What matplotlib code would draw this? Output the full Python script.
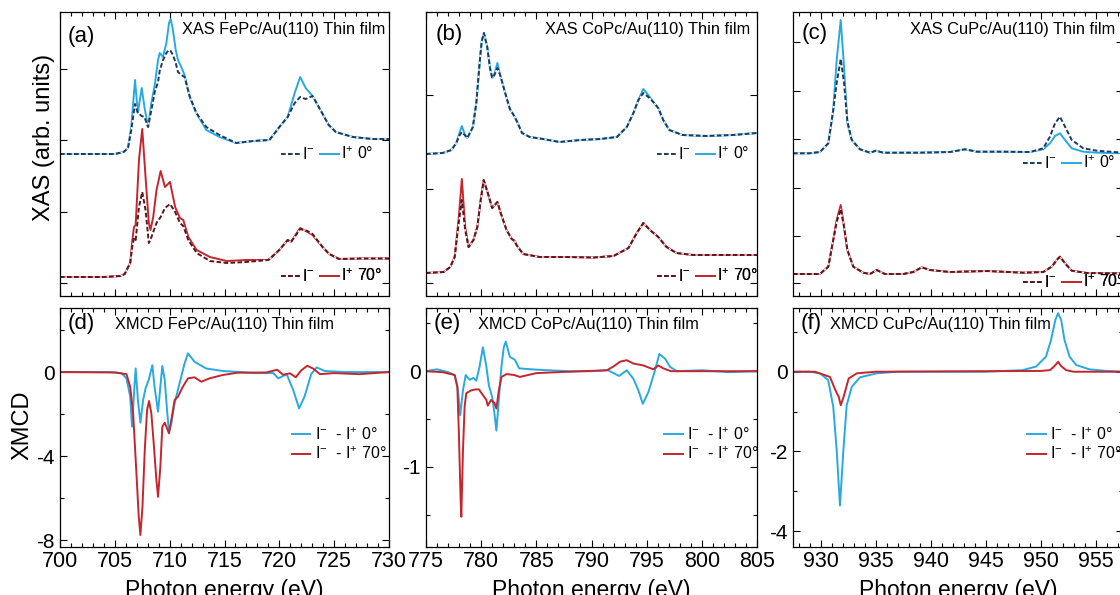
import matplotlib
matplotlib.use('Agg')
import matplotlib.pyplot as plt
from matplotlib.lines import Line2D
from matplotlib.ticker import MultipleLocator, FixedLocator, NullFormatter

plt.rcParams['font.family'] = ['Liberation Sans', 'DejaVu Sans']
plt.rcParams['mathtext.fontset'] = 'custom'
plt.rcParams['mathtext.rm'] = 'Liberation Sans'
plt.rcParams['mathtext.default'] = 'regular'
plt.rcParams['axes.unicode_minus'] = False
plt.rcParams['lines.solid_joinstyle'] = 'round'
plt.rcParams['lines.dash_joinstyle'] = 'round'

# ---------------- FePc (Fe L-edge) ----------------
FE_E0 = [700.0, 703.0, 705.0, 705.8, 706.2, 706.5, 706.84, 707.1, 707.45, 707.7,
         708.03, 708.33, 708.64, 708.94, 709.09, 709.39, 709.7, 709.94, 710.09, 710.3,
         710.55, 710.76, 711.06, 711.36, 711.82, 712.43, 713.34, 714.55, 716.06, 717.6,
         719.1, 720.0, 720.76, 721.4, 721.9, 722.4, 723.03, 723.9, 724.5, 725.15,
         726.7, 728.5, 730.0]
FE_IP0 = [1.42, 1.42, 1.42, 1.44, 1.48, 1.69, 2.16, 1.83, 2.08, 1.89,
          1.69, 1.93, 2.11, 2.36, 2.43, 2.39, 2.53, 2.73, 2.77, 2.66,
          2.46, 2.36, 2.29, 2.21, 1.99, 1.83, 1.66, 1.59, 1.53, 1.55,
          1.56, 1.69, 1.79, 2.03, 2.19, 2.08, 2.00, 1.83, 1.71, 1.64,
          1.59, 1.57, 1.57]
FE_IM0 = [1.42, 1.42, 1.42, 1.44, 1.48, 1.66, 1.92, 1.83, 1.80, 1.79,
          1.69, 1.86, 2.04, 2.14, 2.25, 2.36, 2.43, 2.46, 2.45, 2.41,
          2.33, 2.24, 2.21, 2.19, 2.00, 1.83, 1.69, 1.61, 1.53, 1.55,
          1.56, 1.69, 1.79, 1.93, 1.99, 1.97, 2.00, 1.83, 1.71, 1.64,
          1.59, 1.57, 1.57]
FE_E70 = [700.0, 704.0, 705.5, 705.9, 706.4, 706.6, 706.75, 706.9, 707.2, 707.5,
          707.8, 708.1, 708.25, 708.5, 708.8, 709.18, 709.57, 710.03, 710.5, 710.94,
          711.24, 711.7, 712.46, 713.67, 715.2, 717.0, 719.0, 720.0, 720.76, 721.06,
          721.9, 722.57, 723.03, 723.94, 724.55, 725.45, 727.5, 730.0]
FE_IP70 = [0.19, 0.19, 0.20, 0.22, 0.33, 0.56, 0.69, 0.71, 1.36, 1.67,
           1.19, 0.73, 0.66, 0.79, 1.06, 1.25, 1.09, 1.14, 0.89, 0.78,
           0.76, 0.59, 0.46, 0.39, 0.35, 0.36, 0.36, 0.46, 0.56, 0.54,
           0.68, 0.64, 0.61, 0.49, 0.42, 0.37, 0.375, 0.375]
FE_IM70 = [0.19, 0.19, 0.20, 0.22, 0.33, 0.50, 0.58, 0.56, 0.89, 1.04,
           0.86, 0.53, 0.56, 0.64, 0.73, 0.79, 0.88, 0.92, 0.84, 0.73,
           0.70, 0.56, 0.43, 0.35, 0.33, 0.34, 0.36, 0.46, 0.56, 0.54,
           0.67, 0.65, 0.62, 0.49, 0.42, 0.37, 0.375, 0.375]
FE_XE0 = [700.0, 704.5, 705.6, 706.06, 706.4, 706.57, 706.75, 706.9, 707.1, 707.33,
          707.58, 707.8, 708.1, 708.42, 708.62, 708.94, 709.15, 709.33, 709.55, 709.76,
          709.94, 710.15, 710.45, 710.9, 711.36, 711.67, 712.27, 713.33, 714.85, 716.5,
          717.6, 719.45, 719.9, 720.3, 720.67, 721.27, 721.8, 722.3, 722.9, 723.4,
          724.16, 726.0, 730.0]
FE_X0 = [0.0, 0.0, -0.05, -0.30, -1.17, -2.60, -1.0, 0.17, -1.30, -2.41,
         -1.33, -0.78, -0.35, 0.33, -0.70, -1.89, -0.70, 0.29, -0.38, -1.81,
         -2.84, -2.44, -1.49, -0.54, 0.41, 0.89, 0.49, 0.17, 0.05, 0.0,
         -0.05, -0.05, -0.30, -0.20, -0.10, -0.86, -1.73, -1.17, -0.10, 0.22,
         0.05, 0.0, 0.0]
FE_XE70 = [700.0, 705.0, 706.06, 706.4, 706.67, 706.97, 707.18, 707.33, 707.52, 707.73,
           707.94, 708.12, 708.33, 708.57, 708.79, 708.94, 709.15, 709.33, 709.55, 709.76,
           709.94, 710.15, 710.45, 710.76, 711.2, 711.67, 712.27, 712.88, 713.64, 714.85,
           716.2, 718.8, 719.8, 720.35, 720.97, 721.5, 722.0, 722.55, 723.1, 723.7,
           725.0, 727.3, 730.0]
FE_X70 = [0.0, -0.02, -0.10, -0.70, -1.97, -4.83, -6.89, -7.76, -6.41, -3.71,
          -1.81, -1.38, -1.97, -3.56, -5.14, -5.94, -4.51, -2.60, -2.41, -2.68,
          -2.92, -2.29, -1.33, -1.17, -0.70, -0.30, -0.25, -0.46, -0.30, -0.14,
          -0.03, -0.02, 0.11, -0.13, -0.06, -0.25, 0.08, 0.30, 0.16, -0.10,
          -0.05, -0.10, 0.0]

# ---------------- CoPc (Co L-edge) ----------------
CO_E0 = [775.0, 776.5, 777.3, 777.75, 778.0, 778.25, 778.5, 778.75, 779.25, 779.56,
         779.86, 780.05, 780.25, 780.55, 780.8, 781.0, 781.2, 781.47, 781.75, 782.15,
         782.6, 783.05, 783.35, 783.7, 784.4, 785.6, 787.1, 789.0, 790.8, 792.3,
         793.2, 793.8, 794.25, 794.7, 795.15, 795.6, 796.05, 796.5, 797.05, 798.25,
         800.4, 802.8, 805.0]
CO_IP0 = [1.42, 1.43, 1.46, 1.53, 1.62, 1.70, 1.62, 1.58, 1.69, 1.93,
          2.33, 2.55, 2.63, 2.49, 2.28, 2.18, 2.22, 2.33, 2.20, 2.04,
          1.87, 1.79, 1.72, 1.63, 1.59, 1.57, 1.54, 1.56, 1.57, 1.59,
          1.69, 1.83, 1.96, 2.07, 2.01, 1.94, 1.88, 1.76, 1.66, 1.61,
          1.60, 1.61, 1.63]
CO_IM0 = [1.42, 1.43, 1.46, 1.53, 1.60, 1.64, 1.61, 1.58, 1.69, 1.93,
          2.33, 2.55, 2.63, 2.49, 2.28, 2.18, 2.21, 2.28, 2.20, 2.04,
          1.87, 1.79, 1.72, 1.63, 1.59, 1.57, 1.54, 1.56, 1.57, 1.59,
          1.69, 1.83, 1.96, 2.03, 1.99, 1.94, 1.88, 1.76, 1.66, 1.61,
          1.60, 1.61, 1.63]
CO_E70 = [775.0, 776.6, 777.2, 777.6, 777.95, 778.25, 778.55, 778.86, 779.3, 779.65,
          779.96, 780.23, 780.6, 781.0, 781.47, 781.77, 782.3, 782.77, 783.05, 783.2,
          783.8, 785.3, 787.75, 790.2, 792.0, 793.35, 794.1, 794.7, 795.3, 796.05,
          796.8, 797.7, 799.2, 805.0]
CO_IP70 = [0.23, 0.24, 0.29, 0.39, 0.76, 1.17, 0.69, 0.49, 0.56, 0.69,
           0.96, 1.16, 1.03, 0.88, 0.94, 0.83, 0.66, 0.57, 0.55, 0.51,
           0.42, 0.39, 0.39, 0.385, 0.40, 0.48, 0.63, 0.73, 0.66, 0.59,
           0.49, 0.43, 0.41, 0.41]
CO_IM70 = [0.23, 0.24, 0.29, 0.39, 0.72, 0.96, 0.66, 0.49, 0.56, 0.69,
           0.96, 1.16, 1.03, 0.88, 0.94, 0.83, 0.66, 0.57, 0.55, 0.51,
           0.42, 0.39, 0.39, 0.385, 0.40, 0.48, 0.63, 0.73, 0.66, 0.59,
           0.49, 0.43, 0.41, 0.41]
CO_XE0 = [775.0, 776.0, 777.0, 777.6, 777.9, 778.1, 778.35, 778.6, 778.95, 779.3,
          779.56, 779.86, 780.16, 780.47, 780.7, 781.0, 781.2, 781.38, 781.6, 781.84,
          782.05, 782.23, 782.6, 783.05, 783.44, 784.5, 786.0, 788.0, 790.0, 791.5,
          792.5, 793.2, 793.8, 794.25, 794.65, 795.15, 795.67, 796.15, 796.67, 797.12,
          797.73, 800.0, 802.5, 805.0]
CO_X0 = [0.0, 0.02, -0.01, -0.04, -0.20, -0.46, -0.20, -0.04, -0.09, -0.07,
         -0.10, 0.05, 0.25, 0.05, -0.15, -0.27, -0.44, -0.62, -0.30, 0.05,
         0.25, 0.31, 0.15, 0.12, 0.03, 0.02, 0.01, 0.0, 0.0, 0.01,
         -0.05, 0.01, -0.08, -0.20, -0.34, -0.22, -0.025, 0.18, 0.13, 0.045,
         0.0, 0.01, -0.01, 0.0]
CO_XE70 = [775.0, 776.5, 777.6, 777.84, 777.98, 778.14, 778.2, 778.35, 778.5, 778.65,
           779.1, 779.5, 779.8, 780.16, 780.47, 780.6, 780.9, 781.2, 781.38, 781.6,
           781.84, 782.3, 783.0, 783.5, 785.0, 787.0, 789.3, 791.4, 792.0, 792.6,
           793.2, 793.8, 794.7, 795.6, 796.06, 796.5, 797.2, 800.0, 805.0]
CO_X70 = [0.0, -0.01, -0.04, -0.16, -0.65, -1.35, -1.52, -0.83, -0.37, -0.23,
          -0.20, -0.19, -0.19, -0.25, -0.30, -0.36, -0.30, -0.33, -0.39, -0.20,
          -0.06, -0.03, -0.04, -0.06, -0.02, -0.01, 0.0, 0.01, 0.05, 0.10,
          0.115, 0.08, 0.06, 0.02, 0.06, 0.03, 0.0, 0.0, 0.0]

# ---------------- CuPc (Cu L-edge) ----------------
CU_E0 = [927.5, 929.0, 929.95, 930.71, 931.16, 931.47, 931.84, 932.14, 932.44, 932.84,
         933.59, 934.5, 935.05, 935.71, 937.0, 939.0, 941.77, 943.14, 944.2, 946.62,
         949.05, 950.25, 950.86, 951.32, 951.77, 952.23, 952.84, 953.89, 955.11, 957.5]
CU_IP0 = [1.427, 1.427, 1.44, 1.527, 1.86, 2.36, 2.76, 2.29, 1.73, 1.56,
          1.467, 1.433, 1.453, 1.433, 1.433, 1.433, 1.44, 1.467, 1.443, 1.443,
          1.44, 1.467, 1.527, 1.60, 1.627, 1.56, 1.477, 1.443, 1.433, 1.427]
CU_IM0 = [1.427, 1.427, 1.44, 1.527, 1.86, 2.13, 2.37, 2.13, 1.75, 1.56,
          1.467, 1.433, 1.453, 1.433, 1.433, 1.433, 1.44, 1.467, 1.443, 1.443,
          1.44, 1.477, 1.593, 1.727, 1.793, 1.693, 1.56, 1.477, 1.453, 1.433]
CU_E70 = [927.5, 929.95, 930.71, 931.16, 931.47, 931.84, 932.14, 932.44, 932.98, 933.89,
          934.5, 935.11, 935.86, 937.53, 938.44, 939.2, 939.95, 941.77, 945.11, 948.44,
          950.25, 951.02, 951.53, 951.77, 952.23, 952.84, 954.2, 957.5]
CU_IP70 = [0.22, 0.22, 0.293, 0.56, 0.76, 0.91, 0.693, 0.46, 0.293, 0.233,
           0.22, 0.26, 0.22, 0.22, 0.24, 0.287, 0.26, 0.24, 0.25, 0.233,
           0.24, 0.293, 0.367, 0.393, 0.327, 0.253, 0.23, 0.226]
CU_IM70 = [0.22, 0.22, 0.293, 0.56, 0.74, 0.87, 0.693, 0.46, 0.293, 0.233,
           0.22, 0.26, 0.22, 0.22, 0.24, 0.287, 0.26, 0.24, 0.25, 0.233,
           0.24, 0.293, 0.367, 0.393, 0.327, 0.253, 0.23, 0.226]
CU_XE0 = [927.5, 929.0, 929.95, 930.7, 931.16, 931.47, 931.77, 932.08, 932.38, 932.84,
          933.59, 935.1, 937.0, 945.0, 948.37, 949.6, 950.5, 950.96, 951.35, 951.6,
          951.88, 952.18, 952.64, 953.24, 954.45, 956.0, 957.5]
CU_X0 = [0.0, 0.0, -0.04, -0.21, -0.88, -1.97, -3.36, -1.97, -0.84, -0.38,
         -0.14, -0.04, 0.0, 0.0, 0.04, 0.13, 0.38, 0.80, 1.30, 1.47,
         1.30, 0.80, 0.38, 0.17, 0.06, 0.02, 0.0]
CU_XE70 = [927.5, 929.5, 930.86, 931.35, 931.66, 931.84, 932.1, 932.35, 932.56, 933.3,
           935.0, 950.0, 950.86, 951.27, 951.6, 951.88, 952.33, 953.0, 957.5]
CU_X70 = [0.0, 0.0, -0.13, -0.46, -0.63, -0.84, -0.63, -0.38, -0.17, -0.04,
          0.0, 0.02, 0.04, 0.14, 0.25, 0.14, 0.04, 0.0, 0.0]

CYAN, NAVY = '#29a9e1', '#1c3a5e'
RED, MAROON = '#c4262e', '#5a161c'
LW = 1.4

W, H = 1120, 595
fig = plt.figure(figsize=(11.2, 5.95), dpi=100)


def box(l, t, r, b):
    return [l / W, 1 - b / H, (r - l) / W, (b - t) / H]


def style(ax, xlim):
    ax.set_xlim(*xlim)
    ax.xaxis.set_major_locator(MultipleLocator(5))
    ax.xaxis.set_minor_locator(MultipleLocator(1))
    ax.tick_params(which='both', direction='in', top=True, right=True, width=0.8)
    ax.tick_params(which='major', length=5, labelsize=15.5, pad=3)
    ax.tick_params(which='minor', length=3)
    for s in ax.spines.values():
        s.set_linewidth(0.9)


def xas_panel(ax, xlim, yt, e0, ip0, im0, e70, ip70, im70, title, tag, legx, leg0y, leg70y, titlex, tagpos):
    style(ax, xlim)
    ax.set_ylim(0, 2.84)
    ax.yaxis.set_major_locator(FixedLocator(yt))
    ax.xaxis.set_major_formatter(NullFormatter())
    ax.yaxis.set_major_formatter(NullFormatter())
    for e, ip, im, light, dark in [(e0, ip0, im0, CYAN, NAVY), (e70, ip70, im70, RED, MAROON)]:
        ax.plot(e, ip, color=light, lw=LW)
        ax.plot(e, im, color='white', lw=0.8)
        ax.plot(e, im, color=dark, lw=LW, dashes=(2.4, 1.2))
    for light, dark, ang, y in [(CYAN, NAVY, '0°', leg0y), (RED, MAROON, '70°', leg70y)]:
        hs = [Line2D([], [], color=dark, lw=LW, dashes=(2.4, 1.2)), Line2D([], [], color=light, lw=LW)]
        leg = ax.legend(hs, ['I$^{-}$', 'I$^{+}$ ' + ang], ncol=2, loc='center left',
                        bbox_to_anchor=(legx, y), frameon=False, fontsize=11.5,
                        handlelength=1.2, handletextpad=0.1, columnspacing=0.35,
                        borderpad=0, borderaxespad=0)
        ax.add_artist(leg)
    ax.text(titlex, 0.94, title, transform=ax.transAxes, ha='right', va='center', fontsize=11.8)
    ax.text(tagpos[0], tagpos[1], tag, transform=ax.transAxes, ha='left', va='center', fontsize=16)


def xmcd_panel(ax, xlim, ylim, major, minor, e0, x0, e70, x70, title, tag, titlex, legx):
    style(ax, xlim)
    ax.set_ylim(*ylim)
    ax.yaxis.set_major_locator(MultipleLocator(major))
    ax.yaxis.set_minor_locator(MultipleLocator(minor))
    ax.tick_params(axis='y', pad=4, labelsize=15)
    l0, = ax.plot(e0, x0, color=CYAN, lw=LW)
    l70, = ax.plot(e70, x70, color=RED, lw=LW)
    ax.legend([l0, l70], ['I$^{-}$  - I$^{+}$ 0°', 'I$^{-}$  - I$^{+}$ 70°'], loc='center left',
              bbox_to_anchor=(legx, 0.43), frameon=False, fontsize=11.5, handlelength=1.15,
              handletextpad=0.3, labelspacing=0.2, borderpad=0, borderaxespad=0)
    ax.text(titlex, 0.93, title, transform=ax.transAxes, ha='left', va='center', fontsize=11.8)
    ax.text(0.024, 0.935, tag, transform=ax.transAxes, ha='left', va='center', fontsize=16)
    ax.text(0.5, -0.135, 'Photon energy (eV)', transform=ax.transAxes, ha='center', va='top', fontsize=16.5)


ax_a = fig.add_axes(box(60, 12, 389, 296))
ax_b = fig.add_axes(box(426, 12, 757, 296))
ax_c = fig.add_axes(box(793, 12, 1123, 296))
ax_d = fig.add_axes(box(60, 308, 389, 547))
ax_e = fig.add_axes(box(426, 308, 757, 547))
ax_f = fig.add_axes(box(793, 308, 1123, 547))

xas_panel(ax_a, (700, 730), [0.13, 0.84, 1.56, 2.27], FE_E0, FE_IP0, FE_IM0, FE_E70, FE_IP70, FE_IM70,
          'XAS FePc/Au(110) Thin film', '(a)', 0.672, 0.50, 0.07, 0.988, (0.024, 0.912))
xas_panel(ax_b, (775, 805), [0.133, 1.073, 2.013], CO_E0, CO_IP0, CO_IM0, CO_E70, CO_IP70, CO_IM70,
          'XAS CoPc/Au(110) Thin film', '(b)', 0.698, 0.50, 0.07, 0.979, (0.03, 0.922))
xas_panel(ax_c, (927.5, 957.5), [0.133, 0.60, 1.083, 1.567, 2.053, 2.543], CU_E0, CU_IP0, CU_IM0,
          CU_E70, CU_IP70, CU_IM70, 'XAS CuPc/Au(110) Thin film', '(c)', 0.697, 0.468, 0.05, 0.976,
          (0.027, 0.925))

xmcd_panel(ax_d, (700, 730), (-8.33, 3.05), 4, 2, FE_XE0, FE_X0, FE_XE70, FE_X70,
           'XMCD FePc/Au(110) Thin film', '(d)', 0.167, 0.705)
xmcd_panel(ax_e, (775, 805), (-1.836, 0.66), 1, 0.5, CO_XE0, CO_X0, CO_XE70, CO_X70,
           'XMCD CoPc/Au(110) Thin film', '(e)', 0.157, 0.72)
xmcd_panel(ax_f, (927.5, 957.5), (-4.4, 1.6), 2, 1, CU_XE0, CU_X0, CU_XE70, CU_X70,
           'XMCD CuPc/Au(110) Thin film', '(f)', 0.112, 0.71)

fig.text(44 / W, 1 - 137 / H, 'XAS (arb. units)', rotation=90, ha='center', va='center', fontsize=17)
fig.text(22 / W, 1 - 425 / H, 'XMCD', rotation=90, ha='center', va='center', fontsize=17)

fig.savefig('out.png', dpi=100)
plt.close(fig)
